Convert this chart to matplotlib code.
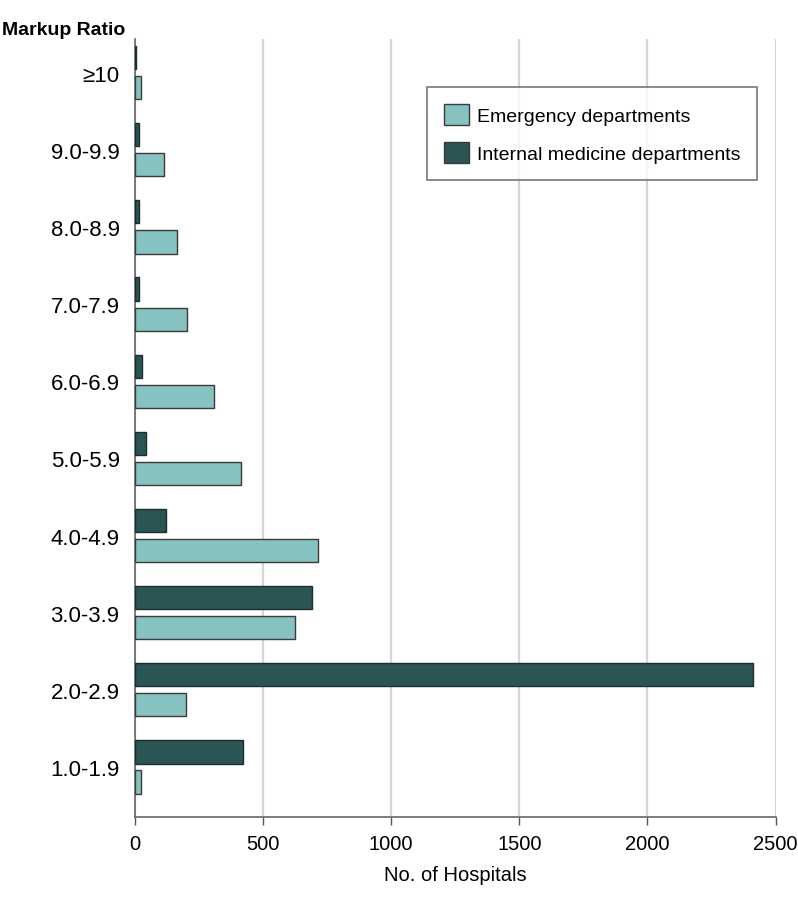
import numpy as np
import matplotlib
matplotlib.use('Agg')
import matplotlib.pyplot as plt
from matplotlib.patches import Patch

#### Data (bottom to top)
categories = ['1.0-1.9', '2.0-2.9', '3.0-3.9', '4.0-4.9', '5.0-5.9',
              '6.0-6.9', '7.0-7.9', '8.0-8.9', '9.0-9.9', '\u226510']
emergency  = [25, 200, 624, 714, 415, 310, 204, 163, 113, 23]
internal   = [420, 2412, 690, 122, 42, 27, 17, 17, 17, 3]

#### Style
plt.rcParams['font.family'] = ['Liberation Sans', 'DejaVu Sans']
c_ed = '#86c2bf'
c_im = '#2b5454'
edge = '#3a3a3a'

fig = plt.figure(figsize=(7.98, 9.03), dpi=100)
ax = fig.add_axes([0.169, 0.094, 0.803, 0.862])

y = np.arange(len(categories))
h = 0.30
off = 0.195
ax.barh(y - off, emergency, height=h, color=c_ed, edgecolor=edge, linewidth=1, zorder=3)
ax.barh(y + off, internal, height=h, color=c_im, edgecolor='#1e2e2e', linewidth=1, zorder=3)

ax.set_xlim(0, 2500)
ax.set_ylim(-0.65, 9.44)
ax.set_xticks([0, 500, 1000, 1500, 2000, 2500])
ax.set_yticks(y)
ax.set_yticklabels(categories)
ax.tick_params(axis='y', length=0, pad=11, labelsize=16)
ax.tick_params(axis='x', length=6, width=1, color='#555555', pad=6, labelsize=14.5)
ax.xaxis.grid(True, color='#d6d6d6', linewidth=1.6, zorder=0)
ax.set_axisbelow(True)

for s in ['top', 'right']:
    ax.spines[s].set_visible(False)
for s in ['left', 'bottom']:
    ax.spines[s].set_color('#666666')
    ax.spines[s].set_linewidth(1.2)

ax.set_xlabel('No. of Hospitals', fontsize=14.5, labelpad=9)
fig.text(0.003, 0.966, 'Markup Ratio', fontsize=14, fontweight='bold', ha='left', va='center')

handles = [Patch(facecolor=c_ed, edgecolor=edge, label='Emergency departments'),
           Patch(facecolor=c_im, edgecolor=edge, label='Internal medicine departments')]
leg = ax.legend(handles=handles, loc='upper left', bbox_to_anchor=(0.456, 0.938),
                fontsize=14, frameon=True, fancybox=False, handlelength=1.29,
                handleheight=1.29, borderpad=0.85, labelspacing=0.9, handletextpad=0.42,
                borderaxespad=0)
leg.get_frame().set_edgecolor('#555555')
leg.get_frame().set_linewidth(1.2)

plt.savefig('out.png', dpi=100)
